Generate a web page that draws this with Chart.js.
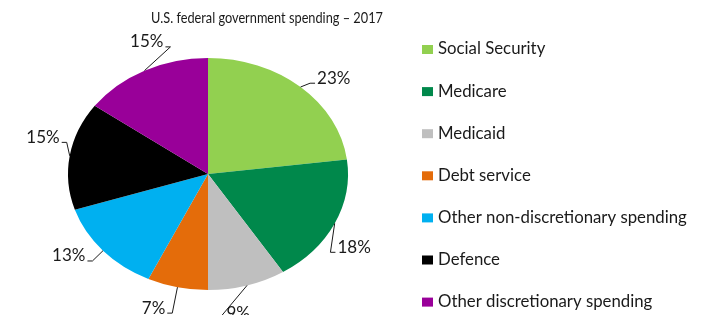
<!DOCTYPE html>
<html>
<head>
<meta charset="utf-8">
<script src="https://cdn.jsdelivr.net/npm/chart.js@4"></script>
<style>
  html, body { margin: 0; padding: 0; background: #fff; }
</style>
</head>
<body>
<canvas id="grafico" width="703" height="315"></canvas>
<script>
const titulo = 'U.S. federal government spending – 2017'
const categorias = ['Social Security', 'Medicare', 'Medicaid', 'Debt service',
  'Other non-discretionary spending', 'Defence', 'Other discretionary spending']
const percentuais = [23, 18, 9, 7, 13, 15, 15]
const cores = ['#92d050', '#00884b', '#bfbfbf', '#e46c0a', '#00b0f0', '#000000', '#990099']

// the original pie is an ellipse: squash it vertically
const ESCALA_Y = 116 / 140
const FONTE = 'Lato, "Open Sans", sans-serif'
const COR_TEXTO = '#1a1a1a'

// flatten the pie around its centre
const achatar = {
  id: 'achatar',
  beforeDatasetsDraw(chart) {
    const ctx = chart.ctx
    const cy = (chart.chartArea.top + chart.chartArea.bottom) / 2
    ctx.save()
    ctx.translate(0, cy)
    ctx.scale(1, ESCALA_Y)
    ctx.translate(0, -cy)
  },
  afterDatasetsDraw(chart) {
    chart.ctx.restore()
  }
}

// percentage labels outside the slices, with leader lines
const rotulos = {
  id: 'rotulos',
  afterDraw(chart) {
    const ctx = chart.ctx
    const arcos = chart.getDatasetMeta(0).data
    ctx.save()
    ctx.font = '17px ' + FONTE
    ctx.fillStyle = COR_TEXTO
    ctx.strokeStyle = COR_TEXTO
    ctx.lineWidth = 1
    ctx.textAlign = 'center'
    ctx.textBaseline = 'middle'
    arcos.forEach((arco, i) => {
      const p = arco.getProps(['x', 'y', 'startAngle', 'endAngle', 'outerRadius'], true)
      const meio = (p.startAngle + p.endAngle) / 2
      const rx = p.outerRadius
      const ry = p.outerRadius * ESCALA_Y
      const x0 = p.x + rx * Math.cos(meio)
      const y0 = p.y + ry * Math.sin(meio)
      const ang = meio + 6 * Math.PI / 180
      const tx = p.x + rx * 1.22 * Math.cos(ang)
      const ty = p.y + ry * 1.22 * Math.sin(ang)
      const texto = percentuais[i] + '%'
      const w = ctx.measureText(texto).width
      const direita = Math.cos(ang) >= 0
      const ly = ty + 5
      const ponta = direita ? tx - w / 2 - 2 : tx + w / 2 + 2
      const cotovelo = direita ? ponta - 5 : ponta + 5
      ctx.beginPath()
      ctx.moveTo(x0, y0)
      ctx.lineTo(cotovelo, ly)
      ctx.lineTo(ponta, ly)
      ctx.stroke()
      ctx.fillText(texto, tx, ty)
    })
    ctx.restore()
  }
}

// title and legend, drawn where the original has them
const moldura = {
  id: 'moldura',
  afterDraw(chart) {
    const ctx = chart.ctx
    ctx.save()
    ctx.fillStyle = COR_TEXTO
    ctx.textBaseline = 'middle'
    // the original title font is narrower: squeeze it a little
    ctx.save()
    ctx.translate(267, 18)
    ctx.scale(0.85, 1)
    ctx.font = '15px ' + FONTE
    ctx.textAlign = 'center'
    ctx.fillText(titulo, 0, 0)
    ctx.restore()

    ctx.font = '16.8px ' + FONTE
    ctx.textAlign = 'left'
    categorias.forEach((nome, i) => {
      const y = 49 + i * 42.1
      ctx.fillStyle = cores[i]
      ctx.fillRect(422, y - 4, 11, 9)
      ctx.fillStyle = COR_TEXTO
      ctx.fillText(nome, 438, y)
    })
    ctx.restore()
  }
}

const ctx = document.getElementById('grafico').getContext('2d')
const grafico = new Chart(ctx, {
  type: 'pie',
  data: {
    labels: categorias,
    datasets: [{
      data: percentuais,
      backgroundColor: cores,
      borderWidth: 0,
      hoverOffset: 0
    }]
  },
  options: {
    responsive: false,
    animation: false,
    layout: {
      padding: { left: 68, right: 355, top: 34, bottom: 1 }
    },
    plugins: {
      legend: { display: false },
      title: { display: false },
      tooltip: { enabled: false }
    }
  },
  plugins: [achatar, rotulos, moldura]
})
</script>
</body>
</html>
